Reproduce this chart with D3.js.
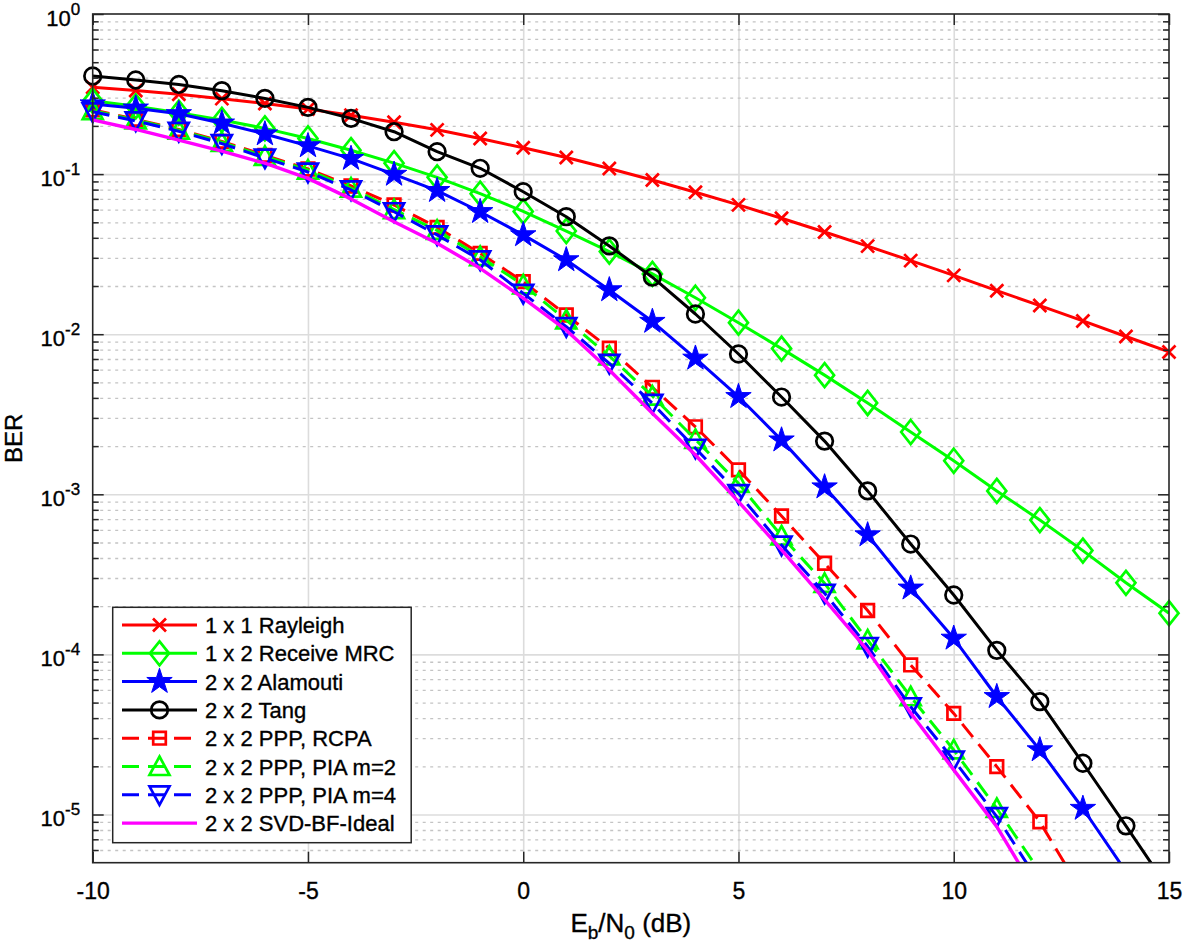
<!DOCTYPE html>
<html><head><meta charset="utf-8">
<script src="https://cdn.jsdelivr.net/npm/d3@7"></script>
<style>
body{margin:0;background:#fff;}
svg{display:block;font-family:"Liberation Sans",Arial,Helvetica,sans-serif;}
</style>
</head><body>
<svg id="chart" width="1185" height="948"></svg>
<script>
// ---------------- data ----------------
const ebn0 = [-10,-9,-8,-7,-6,-5,-4,-3,-2,-1,0,1,2,3,4,5,6,7,8,9,10,11,12,13,14,15];
const berRayleigh = [0.349,0.333,0.315,0.296,0.276,0.255,0.233,0.211,0.189,0.167,0.146,0.127,0.1085,0.0919,0.0771,0.0642,0.0530,0.0435,0.0355,0.0288,0.0233,0.0187,0.0151,0.0121,0.00967,0.00775];
const berMRC = [0.287,0.265,0.242,0.218,0.193,0.167,0.141,0.117,0.0955,0.0755,0.0585,0.0441,0.0328,0.0238,0.0169,0.0118,0.00813,0.00555,0.00372,0.00245,0.00162,0.00105,0.00069,0.000445,0.000280,0.000181];
const berAlamouti = [0.274,0.258,0.238,0.208,0.178,0.150,0.125,0.0995,0.0788,0.0582,0.0417,0.0291,0.0189,0.0120,0.00707,0.00407,0.00218,0.00111,0.000557,0.000259,0.000126,0.0000544,0.0000253,0.0000109,0.0000044,0.0000018];
const berTang = [0.410,0.387,0.363,0.332,0.297,0.261,0.223,0.184,0.138,0.1087,0.0776,0.0542,0.0356,0.0227,0.01337,0.00752,0.00405,0.00215,0.00105,0.000489,0.000235,0.000106,0.0000507,0.0000209,0.0000085,0.0000034];
const berRCPA = [0.252,0.220,0.190,0.160,0.131,0.1076,0.0843,0.0641,0.0465,0.0320,0.0213,0.01318,0.00817,0.00466,0.00264,0.00142,0.000732,0.000371,0.000188,0.0000859,0.0000428,0.0000199,0.0000090,0.0000032];
const berPIA2 = [0.249,0.218,0.188,0.158,0.129,0.106,0.0818,0.0600,0.0445,0.0305,0.0203,0.01227,0.00731,0.00411,0.00220,0.00117,0.000549,0.000278,0.000123,0.0000544,0.0000253,0.0000109,0.0000044];
const berPIA4 = [0.245,0.215,0.185,0.155,0.126,0.103,0.0796,0.0582,0.0417,0.0291,0.0180,0.01114,0.00657,0.00370,0.00194,0.00101,0.000482,0.000241,0.000112,0.0000471,0.0000219,0.0000097,0.0000037];
const berSVD = [0.218,0.190,0.163,0.139,0.117,0.094,0.0700,0.0504,0.0370,0.0258,0.0168,0.0106,0.00597,0.00321,0.00176,0.00090,0.00045,0.00022,0.000106,0.000043,0.000019,0.0000084,0.0000030];

const seriesNames = ["1 x 1 Rayleigh","1 x 2 Receive MRC","2 x 2 Alamouti","2 x 2 Tang","2 x 2 PPP, RCPA","2 x 2 PPP, PIA m=2","2 x 2 PPP, PIA m=4","2 x 2 SVD-BF-Ideal"];
const xTickValues = [-10,-5,0,5,10,15];
const yTickExponents = ["-5","-4","-3","-2","-1","0"];
const xLabelParts = ["E","b","/N","0"," (dB)"];
const yLabel = "BER";

// ---------------- marker shapes ----------------
const symTimes = {draw(c){const r=6.5;c.moveTo(-r,-r);c.lineTo(r,r);c.moveTo(-r,r);c.lineTo(r,-r);}};
const symDiamond = {draw(c){c.moveTo(0,-12);c.lineTo(9.5,0);c.lineTo(0,12);c.lineTo(-9.5,0);c.closePath();}};
const symSquare = {draw(c){const r=6.3;c.moveTo(-r,-r);c.lineTo(r,-r);c.lineTo(r,r);c.lineTo(-r,r);c.closePath();}};
const symTriUp = {draw(c){c.moveTo(0,-10);c.lineTo(10,8.5);c.lineTo(-10,8.5);c.closePath();}};
const symTriDown = {draw(c){c.moveTo(0,10);c.lineTo(10,-8.5);c.lineTo(-10,-8.5);c.closePath();}};

const styles = [
  {color:"#ff0000", dash:null, sym:symTimes, size:1, fill:"none"},
  {color:"#00ff00", dash:null, sym:symDiamond, size:1, fill:"none"},
  {color:"#0000ff", dash:null, sym:d3.symbolStar, size:200, fill:"#0000ff"},
  {color:"#000000", dash:null, sym:d3.symbolCircle, size:Math.PI*8.3*8.3, fill:"none"},
  {color:"#ff0000", dash:"17,9", sym:symSquare, size:1, fill:"none"},
  {color:"#00ff00", dash:"17,9", sym:symTriUp, size:1, fill:"none"},
  {color:"#0000ff", dash:"17,9", sym:symTriDown, size:1, fill:"none"},
  {color:"#ff00ff", dash:null, sym:null, size:0, fill:"none"}
];
const seriesValues = [berRayleigh,berMRC,berAlamouti,berTang,berRCPA,berPIA2,berPIA4,berSVD];

// ---------------- layout ----------------
const L=92.7, R=1169, T=14, B=862.7;
const svg = d3.select("#chart");
const x = d3.scaleLinear().domain([-10,15]).range([L,R]);
const y = d3.scaleLog().domain([5e-6,1]).range([B,T]);

const majorY = yTickExponents.map(e => Math.pow(10, +e));
const minorY = [];
for (let k=-6;k<=-1;k++) for (let m=2;m<=9;m++){ const v=m*Math.pow(10,k); if (v>=5e-6 && v<1) minorY.push(v); }

const textStroke = g => g.attr("stroke","#000").attr("stroke-width",0.35);

// ---------------- grid ----------------
const gGrid = svg.append("g");
gGrid.append("g").attr("transform",`translate(0,${B})`)
  .call(d3.axisBottom(x).tickValues(xTickValues.filter(v=>v>-10&&v<15)).tickSize(-(B-T)).tickFormat(""))
  .call(g=>{g.select(".domain").remove(); g.selectAll("line").attr("stroke","#dcdcdc").attr("stroke-width",1.6);});
gGrid.append("g").attr("transform",`translate(${L},0)`)
  .call(d3.axisLeft(y).tickValues(minorY).tickSize(-(R-L)).tickFormat(""))
  .call(g=>{g.select(".domain").remove(); g.selectAll("line").attr("stroke","#c4c4c4").attr("stroke-width",1.3).attr("stroke-dasharray","3,4.5");});
gGrid.append("g").attr("transform",`translate(${L},0)`)
  .call(d3.axisLeft(y).tickValues(majorY.filter(v=>v<1)).tickSize(-(R-L)).tickFormat(""))
  .call(g=>{g.select(".domain").remove(); g.selectAll("line").attr("stroke","#dcdcdc").attr("stroke-width",1.6);});

// ---------------- series ----------------
svg.append("defs").append("clipPath").attr("id","plotclip")
  .append("rect").attr("x",L).attr("y",T).attr("width",R-L).attr("height",B-T);

const line = d3.line().x(d=>x(d[0])).y(d=>y(d[1]));
const gSeries = svg.append("g");
seriesValues.forEach((vals,i)=>{
  const st = styles[i];
  const pts = vals.map((v,j)=>[ebn0[j], v]);
  gSeries.append("path").attr("d",line(pts)).attr("clip-path","url(#plotclip)")
    .attr("fill","none").attr("stroke",st.color).attr("stroke-width", i===7?3.4:3)
    .attr("stroke-dasharray",st.dash).attr("stroke-linejoin","round");
  if (st.sym){
    const sym = d3.symbol().type(st.sym).size(st.size);
    gSeries.append("g").selectAll("path").data(pts.filter(p=>p[1]>=5e-6 && p[1]<=1)).join("path")
      .attr("transform",p=>`translate(${x(p[0])},${y(p[1])})`)
      .attr("d",sym).attr("fill",st.fill).attr("stroke",st.color)
      .attr("stroke-width", st.fill==="none"?2.7:1);
  }
});

// ---------------- axes ----------------
const axisColor = "#262626";
const gAx = svg.append("g");
function styleAxis(g){ g.select(".domain").remove(); g.selectAll("line").attr("stroke",axisColor).attr("stroke-width",1.5); }
gAx.append("g").attr("transform",`translate(0,${B})`)
  .call(d3.axisBottom(x).tickValues(xTickValues).tickSize(-11).tickPadding(20).tickFormat(d=>String(d)))
  .call(styleAxis)
  .call(g=>g.selectAll("text").attr("fill","#000").attr("font-size",23).attr("font-family","Liberation Sans, Arial, sans-serif").call(textStroke));
gAx.append("g").attr("transform",`translate(0,${T})`)
  .call(d3.axisTop(x).tickValues(xTickValues).tickSize(-11).tickFormat("")).call(styleAxis);
[[L,d3.axisLeft],[R,d3.axisRight]].forEach(([px,ax])=>{
  gAx.append("g").attr("transform",`translate(${px},0)`)
    .call(ax(y).tickValues(minorY).tickSize(-6).tickFormat("")).call(styleAxis);
  gAx.append("g").attr("transform",`translate(${px},0)`)
    .call(ax(y).tickValues(majorY).tickSize(-11).tickFormat("")).call(styleAxis);
});
// y tick labels 10^k
const yl = gAx.append("g").attr("transform",`translate(${L},0)`)
  .call(d3.axisLeft(y).tickValues(majorY).tickSize(0).tickPadding(12.5).tickFormat(""))
  .call(g=>g.select(".domain").remove());
yl.selectAll(".tick text").each(function(d,i){
  const t = d3.select(this).attr("fill","#000").attr("font-size",22).attr("dy",null).attr("y",11).call(textStroke);
  t.append("tspan").text("10");
  t.append("tspan").attr("dy",-11).attr("font-size",17).text(yTickExponents[i]);
});
// box
svg.append("rect").attr("x",L).attr("y",T).attr("width",R-L).attr("height",B-T)
  .attr("fill","none").attr("stroke",axisColor).attr("stroke-width",1.6);

// axis labels
const xl = svg.append("text").attr("x",(L+R)/2).attr("y",932).attr("text-anchor","middle")
  .attr("font-size",26).attr("fill","#000").call(textStroke);
xl.append("tspan").text(xLabelParts[0]);
xl.append("tspan").attr("dy",7).attr("font-size",19).text(xLabelParts[1]);
xl.append("tspan").attr("dy",-7).text(xLabelParts[2]);
xl.append("tspan").attr("dy",7).attr("font-size",19).text(xLabelParts[3]);
xl.append("tspan").attr("dy",-7).text(xLabelParts[4]);

svg.append("text").attr("transform",`translate(22,${(T+B)/2}) rotate(-90)`).attr("text-anchor","middle")
  .attr("font-size",24).attr("fill","#000").call(textStroke).text(yLabel);

// ---------------- legend ----------------
const lg = svg.append("g");
lg.append("rect").attr("x",112.7).attr("y",607.3).attr("width",298.5).attr("height",235.4)
  .attr("fill","#fff").attr("stroke",axisColor).attr("stroke-width",1.5);
seriesNames.forEach((name,i)=>{
  const st = styles[i];
  const cy = 625 + i*28.3;
  lg.append("line").attr("x1",122).attr("x2",197).attr("y1",cy).attr("y2",cy)
    .attr("stroke",st.color).attr("stroke-width",i===7?3.4:3).attr("stroke-dasharray",st.dash);
  if (st.sym){
    lg.append("path").attr("transform",`translate(159.5,${cy})`)
      .attr("d",d3.symbol().type(st.sym).size(st.size)).attr("fill",st.fill).attr("stroke",st.color)
      .attr("stroke-width", st.fill==="none"?2.7:1);
  }
  lg.append("text").attr("x",205).attr("y",cy+8).attr("font-size",22).attr("fill","#000").call(textStroke).text(name);
});
</script>
</body></html>
